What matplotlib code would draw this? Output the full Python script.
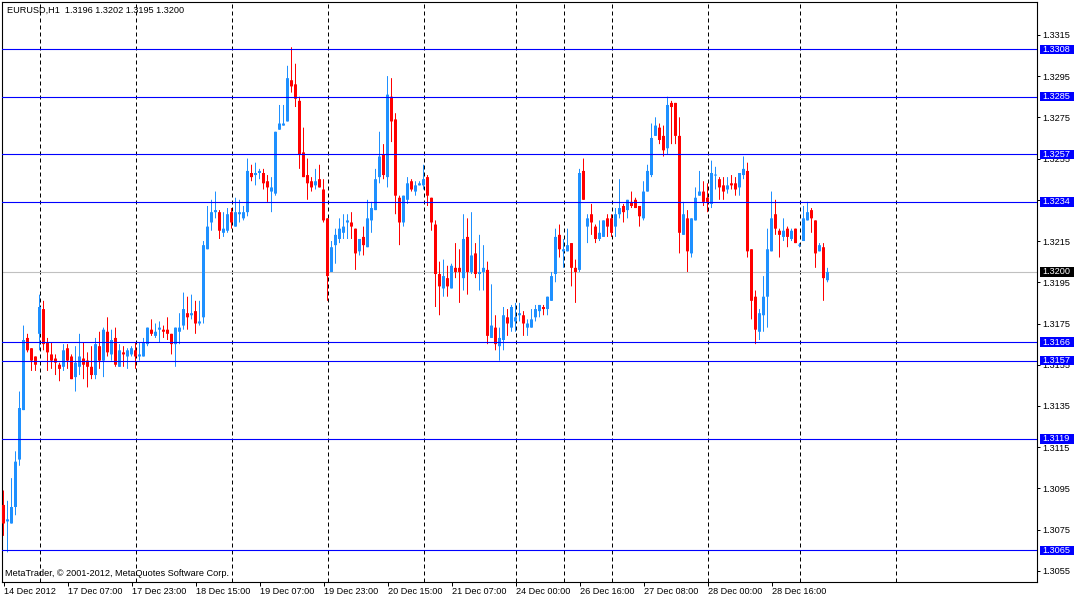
import matplotlib
matplotlib.use('Agg')
import matplotlib.pyplot as plt
from matplotlib.patches import Rectangle
import numpy as np

plt.rcParams['font.family'] = ['Liberation Sans', 'DejaVu Sans']

# ---------------- data (EURUSD H1) ----------------
opens = [1.3087,1.3079,1.3078,1.3086,1.3109,1.3133,1.3168,1.3163,1.3159,1.3170,
         1.3182,1.3166,1.3160,1.3158,1.3155,1.3154,1.3163,1.3159,1.3149,1.3154,
         1.3158,1.3157,1.3154,1.3150,1.3164,1.3157,1.3171,1.3160,1.3168,1.3154,
         1.3161,1.3159,1.3160,1.3162,1.3159,1.3159,1.3165,1.3172,1.3169,1.3172,
         1.3172,1.3172,1.3170,1.3165,1.3171,1.3174,1.3180,1.3179,1.3181,1.3175,
         1.3178,1.3211,1.3224,1.3229,1.3229,1.3219,1.3220,1.3229,1.3222,1.3228,
         1.3226,1.3229,1.3248,1.3247,1.3248,1.3248,1.3244,1.3239,1.3238,1.3269,
         1.3271,1.3273,1.3293,1.3291,1.3283,1.3258,1.3247,1.3244,1.3242,1.3245,
         1.3240,1.3226,1.3200,1.3213,1.3216,1.3219,1.3224,1.3224,1.3221,1.3210,
         1.3217,1.3212,1.3225,1.3230,1.3246,1.3257,1.3246,1.3285,1.3274,1.3236,
         1.3224,1.3235,1.3244,1.3239,1.3242,1.3242,1.3246,1.3236,1.3223,1.3199,
         1.3192,1.3197,1.3192,1.3202,1.3202,1.3197,1.3217,1.3200,1.3209,1.3199,
         1.3200,1.3201,1.3168,1.3173,1.3164,1.3167,1.3178,1.3173,1.3176,1.3179,
         1.3179,1.3173,1.3173,1.3178,1.3181,1.3183,1.3182,1.3186,1.3199,1.3218,
         1.3210,1.3210,1.3214,1.3202,1.3201,1.3249,1.3222,1.3228,1.3222,1.3216,
         1.3217,1.3226,1.3226,1.3222,1.3228,1.3232,1.3230,1.3234,1.3235,1.3232,
         1.3226,1.3239,1.3247,1.3266,1.3270,1.3266,1.3260,1.3282,1.3282,1.3266,
         1.3218,1.3226,1.3209,1.3225,1.3237,1.3239,1.3236,1.3233,1.3247,1.3245,
         1.3242,1.3240,1.3243,1.3243,1.3241,1.3247,1.3249,1.3211,1.3188,1.3171,
         1.3179,1.3188,1.3210,1.3228,1.3220,1.3217,1.3221,1.3216,1.3221,1.3213,
         1.3215,1.3225,1.3230,1.3225,1.3210,1.3212,1.3196]
highs = [1.3094,1.3089,1.3100,1.3113,1.3142,1.3174,1.3170,1.3163,1.3159,1.3189,
         1.3186,1.3168,1.3166,1.3160,1.3156,1.3165,1.3165,1.3160,1.3164,1.3170,
         1.3166,1.3161,1.3164,1.3168,1.3171,1.3173,1.3178,1.3172,1.3173,1.3165,
         1.3164,1.3163,1.3164,1.3166,1.3166,1.3168,1.3173,1.3177,1.3175,1.3176,
         1.3174,1.3178,1.3170,1.3173,1.3180,1.3190,1.3188,1.3189,1.3186,1.3186,
         1.3215,1.3232,1.3235,1.3239,1.3230,1.3229,1.3231,1.3231,1.3236,1.3235,
         1.3232,1.3255,1.3252,1.3253,1.3250,1.3250,1.3247,1.3246,1.3268,1.3281,
         1.3281,1.3300,1.3309,1.3301,1.3285,1.3270,1.3255,1.3246,1.3250,1.3252,
         1.3245,1.3226,1.3215,1.3221,1.3226,1.3228,1.3228,1.3229,1.3221,1.3216,
         1.3222,1.3235,1.3234,1.3250,1.3268,1.3262,1.3295,1.3294,1.3277,1.3237,
         1.3237,1.3246,1.3245,1.3244,1.3244,1.3252,1.3247,1.3236,1.3225,1.3205,
         1.3206,1.3203,1.3204,1.3214,1.3211,1.3228,1.3226,1.3229,1.3214,1.3218,
         1.3213,1.3205,1.3194,1.3179,1.3173,1.3183,1.3182,1.3184,1.3185,1.3185,
         1.3181,1.3177,1.3182,1.3184,1.3184,1.3184,1.3188,1.3200,1.3221,1.3223,
         1.3216,1.3221,1.3214,1.3206,1.3250,1.3255,1.3228,1.3233,1.3223,1.3225,
         1.3225,1.3228,1.3228,1.3231,1.3245,1.3233,1.3235,1.3239,1.3236,1.3232,
         1.3244,1.3252,1.3272,1.3275,1.3272,1.3271,1.3285,1.3283,1.3282,1.3275,
         1.3234,1.3230,1.3226,1.3241,1.3249,1.3244,1.3243,1.3254,1.3251,1.3246,
         1.3246,1.3246,1.3247,1.3246,1.3248,1.3256,1.3253,1.3211,1.3191,1.3182,
         1.3198,1.3221,1.3239,1.3235,1.3221,1.3226,1.3222,1.3221,1.3221,1.3214,
         1.3232,1.3234,1.3231,1.3225,1.3214,1.3214,1.3202]
lows = [1.3072,1.3064,1.3078,1.3082,1.3106,1.3133,1.3161,1.3152,1.3152,1.3162,
        1.3162,1.3152,1.3153,1.3150,1.3147,1.3152,1.3153,1.3148,1.3142,1.3150,
        1.3148,1.3144,1.3148,1.3148,1.3153,1.3149,1.3159,1.3157,1.3154,1.3154,
        1.3154,1.3153,1.3159,1.3153,1.3157,1.3159,1.3164,1.3169,1.3168,1.3166,
        1.3168,1.3167,1.3160,1.3154,1.3165,1.3172,1.3172,1.3177,1.3170,1.3174,
        1.3175,1.3211,1.3220,1.3226,1.3216,1.3217,1.3219,1.3221,1.3222,1.3224,
        1.3225,1.3227,1.3244,1.3242,1.3245,1.3240,1.3234,1.3229,1.3237,1.3269,
        1.3271,1.3273,1.3287,1.3280,1.3250,1.3246,1.3235,1.3239,1.3240,1.3241,
        1.3224,1.3186,1.3200,1.3204,1.3214,1.3216,1.3216,1.3216,1.3201,1.3208,
        1.3208,1.3212,1.3219,1.3230,1.3243,1.3245,1.3241,1.3263,1.3228,1.3213,
        1.3222,1.3233,1.3239,1.3237,1.3242,1.3240,1.3232,1.3220,1.3183,1.3179,
        1.3188,1.3188,1.3192,1.3197,1.3185,1.3191,1.3189,1.3199,1.3197,1.3191,
        1.3191,1.3165,1.3168,1.3162,1.3157,1.3162,1.3169,1.3171,1.3171,1.3176,
        1.3169,1.3169,1.3173,1.3176,1.3178,1.3179,1.3179,1.3186,1.3195,1.3207,
        1.3202,1.3210,1.3193,1.3185,1.3200,1.3235,1.3214,1.3218,1.3214,1.3215,
        1.3217,1.3217,1.3217,1.3217,1.3226,1.3224,1.3226,1.3231,1.3231,1.3222,
        1.3225,1.3239,1.3246,1.3266,1.3262,1.3256,1.3257,1.3262,1.3262,1.3209,
        1.3218,1.3200,1.3207,1.3225,1.3237,1.3232,1.3229,1.3231,1.3240,1.3235,
        1.3235,1.3238,1.3240,1.3237,1.3237,1.3245,1.3207,1.3177,1.3165,1.3167,
        1.3171,1.3173,1.3210,1.3218,1.3207,1.3215,1.3212,1.3215,1.3214,1.3212,
        1.3215,1.3225,1.3219,1.3202,1.3210,1.3186,1.3195]
closes = [1.3078,1.3080,1.3086,1.3108,1.3134,1.3167,1.3162,1.3157,1.3155,1.3183,
          1.3165,1.3161,1.3157,1.3156,1.3153,1.3162,1.3157,1.3148,1.3156,1.3159,
          1.3155,1.3154,1.3150,1.3165,1.3157,1.3172,1.3161,1.3167,1.3155,1.3162,
          1.3160,1.3162,1.3163,1.3159,1.3160,1.3166,1.3173,1.3170,1.3171,1.3173,
          1.3171,1.3170,1.3165,1.3173,1.3173,1.3182,1.3178,1.3180,1.3175,1.3176,
          1.3213,1.3222,1.3229,1.3230,1.3220,1.3221,1.3228,1.3224,1.3229,1.3229,
          1.3229,1.3249,1.3246,1.3248,1.3249,1.3243,1.3241,1.3241,1.3268,1.3272,
          1.3272,1.3294,1.3290,1.3284,1.3257,1.3246,1.3243,1.3241,1.3244,1.3241,
          1.3225,1.3198,1.3212,1.3218,1.3221,1.3222,1.3225,1.3222,1.3209,1.3216,
          1.3213,1.3226,1.3231,1.3245,1.3256,1.3247,1.3286,1.3273,1.3237,1.3224,
          1.3237,1.3243,1.3240,1.3242,1.3243,1.3245,1.3237,1.3224,1.3199,1.3193,
          1.3198,1.3193,1.3203,1.3200,1.3200,1.3216,1.3200,1.3208,1.3199,1.3200,
          1.3202,1.3169,1.3174,1.3165,1.3168,1.3179,1.3175,1.3183,1.3178,1.3180,
          1.3175,1.3175,1.3177,1.3182,1.3184,1.3182,1.3188,1.3198,1.3217,1.3211,
          1.3211,1.3213,1.3202,1.3200,1.3248,1.3235,1.3226,1.3224,1.3216,1.3219,
          1.3225,1.3222,1.3219,1.3228,1.3231,1.3229,1.3235,1.3232,1.3231,1.3227,
          1.3239,1.3249,1.3265,1.3271,1.3264,1.3259,1.3281,1.3280,1.3266,1.3219,
          1.3228,1.3210,1.3226,1.3236,1.3239,1.3234,1.3234,1.3248,1.3247,1.3241,
          1.3239,1.3242,1.3242,1.3240,1.3248,1.3250,1.3210,1.3186,1.3172,1.3180,
          1.3188,1.3211,1.3226,1.3221,1.3218,1.3220,1.3217,1.3220,1.3214,1.3213,
          1.3226,1.3229,1.3226,1.3209,1.3213,1.3197,1.3200]

hline_levels = [1.3308, 1.3285, 1.3257, 1.3234, 1.3166, 1.3157, 1.3119, 1.3065]
bid_level = 1.3200
day_start_bars = [9, 33, 57, 81, 105, 128, 140, 152, 176, 199, 223]
xtick_bars = [0, 16, 32, 48, 64, 80, 96, 112, 128, 144, 160, 176, 192]
xtick_labels = ["14 Dec 2012", "17 Dec 07:00", "17 Dec 23:00", "18 Dec 15:00",
                "19 Dec 07:00", "19 Dec 23:00", "20 Dec 15:00", "21 Dec 07:00",
                "24 Dec 00:00", "26 Dec 16:00", "27 Dec 08:00", "28 Dec 00:00",
                "28 Dec 16:00"]
ytick_values = [1.3055, 1.3075, 1.3095, 1.3115, 1.3135, 1.3155, 1.3175, 1.3195,
                1.3215, 1.3235, 1.3255, 1.3275, 1.3295, 1.3315]
header = "EURUSD,H1  1.3196 1.3202 1.3195 1.3200"
footer = "MetaTrader, \u00a9 2001-2012, MetaQuotes Software Corp."

BULL = '#1E90FF'
BEAR = '#FF0000'
FS = 6.6

# ---------------- figure ----------------
W, H = 1075, 599
fig = plt.figure(figsize=(W / 100, H / 100), dpi=100)
fig.patch.set_facecolor('white')
L, R, T, B = 2, 1037, 2, 582
ax = fig.add_axes([L / W, (H - B) / H, (R - L) / W, (B - T) / H])
ax.set_facecolor('white')
ax.set_xlim(-0.375, 258.375)
ax.set_ylim(1.304962, 1.333094)

o = np.array(opens); h = np.array(highs); l = np.array(lows); c = np.array(closes)
xs = np.arange(len(o))
bull = c >= o
cols = np.where(bull, BULL, BEAR)

# grid (day separators)
for d in day_start_bars:
    ax.axvline(d, color='black', lw=0.72, ls=(0, (4, 3)), zorder=1)

# wicks (1 px)
wk = ax.vlines(xs, l, h, colors=cols, lw=0.72, zorder=3)
wk.set_snap(False)
# bodies (3 px wide), at least one pixel tall
pip_px = 0.0001 / 2.0617
lo_b = np.minimum(o, c)
hi_b = np.maximum(o, c)
thin = (hi_b - lo_b) < pip_px
lo_b = np.where(thin, c - pip_px * 0.5, lo_b)
hi_b = np.where(thin, c + pip_px * 0.5, hi_b)
bd = ax.vlines(xs, lo_b, hi_b, colors=cols, lw=2.16, zorder=4)
bd.set_capstyle('butt')
bd.set_snap(False)

# horizontal lines
for lev in hline_levels:
    ax.axhline(lev, color='#0000FF', lw=0.8, zorder=5)
ax.axhline(bid_level, color='#C0C0C0', lw=0.8, zorder=2)

# axes styling
for s in ax.spines.values():
    s.set_color('black')
    s.set_linewidth(0.8)
ax.yaxis.tick_right()
ax.set_yticks(ytick_values)
ax.set_yticklabels(['%.4f' % v for v in ytick_values])
ax.tick_params(axis='y', direction='out', length=2.5, width=0.72, pad=1.5,
               labelsize=FS, colors='black')
ax.set_xticks(xtick_bars)
ax.set_xticklabels(xtick_labels, ha='left')
ax.tick_params(axis='x', direction='out', length=2.8, width=0.72, pad=1.0,
               labelsize=FS, colors='black')

# price boxes on the right axis
ytr = ax.get_yaxis_transform()
axw = R - L
box_h = 0.00046
def price_box(level, fc):
    ax.add_patch(Rectangle((3.0 / axw + 1.0, level - box_h / 2), 34.0 / axw, box_h,
                           transform=ytr, facecolor=fc, edgecolor='none',
                           clip_on=False, zorder=10))
    ax.text(1.0 + 5.0 / axw, level, '%.4f' % level, transform=ytr, color='white',
            fontsize=FS, ha='left', va='center', clip_on=False, zorder=11)

for lev in hline_levels:
    price_box(lev, '#0000FF')
price_box(bid_level, '#000000')

fig.text(7 / W, 1 - 10.5 / H, header, fontsize=FS, ha='left', va='center', color='black')
fig.text(5 / W, 1 - 574 / H, footer, fontsize=FS, ha='left', va='center', color='black')

fig.savefig('out.png', dpi=100, facecolor='white')
